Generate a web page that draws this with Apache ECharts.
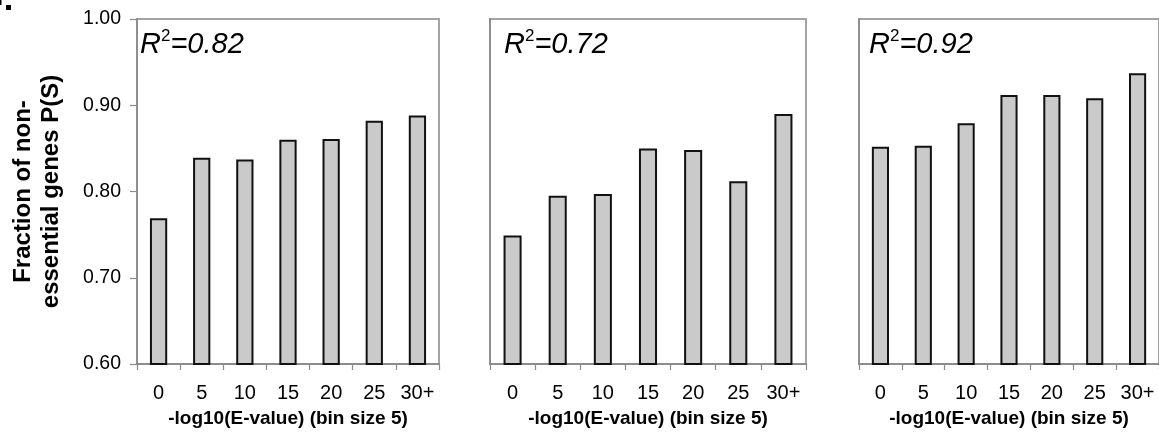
<!DOCTYPE html>
<html>
<head>
<meta charset="utf-8">
<script src="https://cdn.jsdelivr.net/npm/echarts@6/dist/echarts.min.js"></script>
<style>
html,body{margin:0;padding:0;background:#fff;}
#c{width:1159px;height:433px;}
</style>
</head>
<body>
<div id="c"></div>
<script>
// ---- data ----
var categories = ['0', '5', '10', '15', '20', '25', '30+'];
var panel1 = [0.769, 0.839, 0.837, 0.860, 0.861, 0.882, 0.888];
var panel2 = [0.749, 0.795, 0.797, 0.850, 0.848, 0.812, 0.890];
var panel3 = [0.852, 0.853, 0.879, 0.912, 0.912, 0.908, 0.937];
var r2Values = ['0.82', '0.72', '0.92'];
var yMin = 0.60, yMax = 1.00, yStep = 0.10;
var xAxisTitle = '-log10(E-value) (bin size 5)';
var yAxisTitle = 'Fraction of non-\nessential genes P(S)';

var FONT = '"Liberation Sans", Arial, sans-serif';
var chart = echarts.init(document.getElementById('c'), null, {renderer: 'canvas'});

var grids = [
  {left: 137, top: 19, width: 302, height: 345},
  {left: 490, top: 19, width: 316, height: 345},
  {left: 859, top: 19, width: 302, height: 345}
];
var series = [panel1, panel2, panel3];
var r2Pos = [[140, 28], [504, 28], [869, 28]];

var option = {
  backgroundColor: '#ffffff',
  animation: false,
  grid: grids.map(function (g) {
    return Object.assign({show: true, borderColor: '#a3a3a3', borderWidth: 2, backgroundColor: 'transparent', containLabel: false}, g);
  }),
  xAxis: grids.map(function (g, i) {
    return {
      type: 'category', gridIndex: i, data: categories,
      boundaryGap: true,
      axisLine: {show: true, lineStyle: {color: '#858585', width: 1.6}},
      axisTick: {show: true, length: 6, alignWithLabel: false, lineStyle: {color: '#8a8a8a', width: 1.2}},
      axisLabel: {color: '#000', fontFamily: FONT, fontSize: 20, margin: 19, interval: 0},
      name: xAxisTitle, nameLocation: 'middle', nameGap: 45,
      nameTextStyle: {color: '#000', fontFamily: FONT, fontSize: 19, fontWeight: 'bold'},
      splitLine: {show: false}
    };
  }),
  yAxis: grids.map(function (g, i) {
    return {
      type: 'value', gridIndex: i, min: yMin, max: yMax, interval: yStep,
      axisLine: {show: true, lineStyle: {color: '#8a8a8a', width: 1.6}},
      axisTick: {show: i === 0, length: 7, lineStyle: {color: '#8a8a8a', width: 1.2}},
      axisLabel: {show: i === 0, color: '#000', fontFamily: FONT, fontSize: 19.5, margin: 16,
        formatter: function (v) { return v.toFixed(2); }},
      splitLine: {show: false},
      name: i === 0 ? yAxisTitle : '',
      nameLocation: 'middle', nameRotate: 90, nameGap: 72,
      nameTextStyle: {color: '#000', fontFamily: FONT, fontSize: 24, fontWeight: 'bold', lineHeight: 28}
    };
  }),
  series: series.map(function (d, i) {
    return {
      type: 'bar', xAxisIndex: i, yAxisIndex: i, data: d,
      barWidth: '40%',
      itemStyle: {color: '#cacaca', borderColor: '#111', borderWidth: 2},
      emphasis: {disabled: true}
    };
  }),
  graphic: r2Values.map(function (v, i) {
    return {
      type: 'text', left: r2Pos[i][0], top: r2Pos[i][1], z: 10,
      style: {
        text: '{r|R}{s|2}{r|=' + v + '}',
        rich: {
          r: {fontFamily: FONT, fontSize: 29, fontStyle: 'italic', fill: '#000', lineHeight: 32, verticalAlign: 'bottom'},
          s: {fontFamily: FONT, fontSize: 17, fill: '#000', lineHeight: 17, verticalAlign: 'bottom', padding: [0, 0, 14, 0]}
        }
      }
    };
  }).concat([
    {type: 'rect', left: 6, top: 5, shape: {width: 5, height: 5}, style: {fill: '#000'}},
    {type: 'rect', left: 0, top: 0, shape: {width: 1.5, height: 5}, style: {fill: '#000'}}
  ])
};
chart.setOption(option);
</script>
</body>
</html>
